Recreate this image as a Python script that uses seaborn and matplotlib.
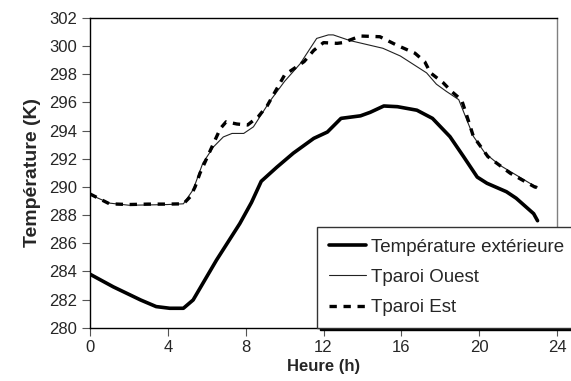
import numpy as np
import pandas as pd
import matplotlib
matplotlib.use("Agg")
import matplotlib.pyplot as plt
import seaborn as sns

# Values
heure_ext = [0, 1.2, 2.6, 3.4, 4.1, 4.8, 5.3, 6.5, 7.7, 8.3, 8.8, 9.6, 10.45,
             11.5, 12.2, 12.9, 13.9, 14.4, 15.1, 15.8, 16.8, 17.6, 18.5, 19.2,
             19.9, 20.4, 21.4, 21.9, 22.8, 23.0]
temp_ext = [283.8, 282.9, 281.97, 281.5, 281.38, 281.38, 281.97, 284.8, 287.4,
            288.9, 290.4, 291.4, 292.4, 293.45, 293.9, 294.87, 295.05, 295.3,
            295.75, 295.7, 295.45, 294.87, 293.57, 292.15, 290.7, 290.26,
            289.66, 289.2, 288.1, 287.6]

heure_ouest = [0, 1, 2, 3, 4, 4.8, 5.3, 5.8, 6.35, 6.85, 7.3, 7.9, 8.4, 9.25,
               10, 10.8, 11.65, 12.25, 12.5, 13.35, 15.05, 15.95, 17.3, 17.8,
               18.3, 18.95, 19.7, 20.3, 21.05, 22.8, 23.0]
tparoi_ouest = [289.45, 288.85, 288.7, 288.72, 288.75, 288.8, 289.8, 291.7,
                292.85, 293.55, 293.8, 293.8, 294.27, 296.1, 297.5, 298.75,
                300.55, 300.8, 300.8, 300.4, 299.85, 299.3, 298.1, 297.3,
                296.8, 296.2, 293.6, 292.4, 291.55, 290.1, 290.0]

heure_est = [0, 1, 2, 3, 4, 4.8, 5.15, 5.4, 5.65, 6.0, 6.35, 6.7, 7.0, 7.55,
             8.1, 8.65, 9.1, 10, 11.0, 11.5, 12.0, 12.7, 13.0, 13.9, 14.9,
             15.75, 16.7, 17.2, 17.5, 18.15, 18.6, 19.1, 19.3, 19.7, 20.45,
             21.6, 22.85, 23.0]
tparoi_est = [289.5, 288.8, 288.75, 288.78, 288.78, 288.8, 289.3, 290.0,
              290.97, 292.03, 293.1, 294.15, 294.63, 294.47, 294.4, 295.0,
              295.75, 297.95, 298.9, 299.7, 300.25, 300.2, 300.25, 300.72,
              300.67, 300.08, 299.5, 298.9, 298.1, 297.4, 296.76, 296.17,
              295.34, 293.6, 292.15, 290.97, 290.0, 289.95]

x_ticks = [0, 4, 8, 12, 16, 20, 24]
y_ticks = list(range(280, 303, 2))

sns.set_style("ticks")
plt.rcParams["font.family"] = ["Liberation Sans", "DejaVu Sans"]

fig = plt.figure(figsize=(5.71, 3.81), dpi=100)
ax = fig.add_axes([90 / 571, 1 - 327.7 / 381, (557 - 90) / 571, (327.7 - 18) / 381])

sns.lineplot(x=heure_ext, y=temp_ext, ax=ax, color="black", lw=2.6,
             label="Température extérieure")
sns.lineplot(x=heure_ouest, y=tparoi_ouest, ax=ax, color="#222222", lw=0.8,
             label="Tparoi Ouest")
sns.lineplot(x=heure_est, y=tparoi_est, ax=ax, color="black", lw=2.4,
             linestyle=(0, (2.2, 2.0)), label="Tparoi Est")

ax.set_xlim(0, 24)
ax.set_ylim(280, 302)
ax.set_xticks(x_ticks)
ax.set_yticks(y_ticks)
ax.tick_params(direction="out", length=6, width=0.8, labelsize=12, pad=3,
               color="#555555")
ax.set_xlabel("Heure (h)", fontsize=12, fontweight="bold", labelpad=3)
ax.set_ylabel("Température (K)", fontsize=14, fontweight="bold", labelpad=6)

for side in ["left", "bottom", "top"]:
    ax.spines[side].set_color("black")
    ax.spines[side].set_linewidth(1.0)
ax.spines["right"].set_color("#808080")
ax.spines["right"].set_linewidth(1.0)

leg = ax.legend(loc="upper left", bbox_to_anchor=(308 / 571, 1 - 218 / 381),
                bbox_transform=fig.transFigure, fontsize=13.5, frameon=True,
                fancybox=False, shadow={"color": "black", "alpha": 1.0},
                edgecolor="#333333", framealpha=1, handlelength=2.0,
                handletextpad=0.25, labelspacing=0.7, borderpad=0.6)
leg.get_frame().set_linewidth(1.0)

fig.savefig("out.png", dpi=100)
